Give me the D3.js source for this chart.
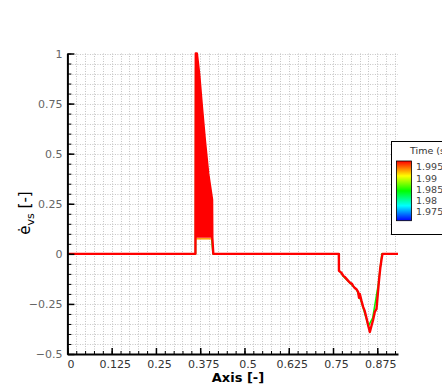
<!DOCTYPE html>
<html>
<head>
<meta charset="utf-8">
<script src="https://cdn.jsdelivr.net/npm/d3@7"></script>
<style>
  body { margin: 0; background: #fff; }
  svg { display: block; font-family: "DejaVu Sans", sans-serif; }
</style>
</head>
<body>
<div id="graph"></div>
<script>

// colour bar
var timeTicks = [1.975, 1.98, 1.985, 1.99, 1.995];
var timeRange = [1.9711, 1.9977];

// x ticks / y ticks
var xTicks = [0, 0.125, 0.25, 0.375, 0.5, 0.625, 0.75, 0.875];
var yTicks = [-0.5, -0.25, 0, 0.25, 0.5, 0.75, 1];

// latest time step (t = 1.995), red
var redX = [0, 0.3615, 0.3625, 0.3655, 0.372, 0.380, 0.388, 0.3976, 0.4085, 0.4092, 0.412,
            0.7665, 0.7668, 0.774, 0.779, 0.783, 0.788, 0.793, 0.7985, 0.8035, 0.8067, 0.811,
            0.8155, 0.8208, 0.8235, 0.8255, 0.8304, 0.835, 0.8395, 0.8445, 0.849, 0.854,
            0.8585, 0.8631, 0.868, 0.8728, 0.8765, 0.880, 0.8835, 0.8868, 0.8897, 0.9335];
var redY = [0, 0, 1.0, 1.0, 0.90, 0.73, 0.57, 0.40, 0.27, 0.08, 0,
            0, -0.085, -0.095, -0.11, -0.115, -0.125, -0.135, -0.145, -0.15, -0.16, -0.17,
            -0.175, -0.19, -0.22, -0.2, -0.235, -0.265, -0.285, -0.32, -0.355, -0.39,
            -0.36, -0.33, -0.29, -0.275, -0.2, -0.13, -0.07, -0.03, 0, 0];

// region swept by the red snapshots around the spike
var bandX = [0.3625, 0.3655, 0.372, 0.380, 0.388, 0.3976, 0.4085];
var bandTop = [1.0, 1.0, 0.90, 0.73, 0.57, 0.40, 0.27];
var bandBottom = [0.08, 0.08, 0.08, 0.08, 0.08, 0.08, 0.08];

// older step (t = 1.985)
var greenX = [0, 0.3618, 0.3622, 0.366, 0.373, 0.3815, 0.3885, 0.397, 0.407, 0.4075, 0.411,
              0.766, 0.7665, 0.78, 0.795, 0.806, 0.817, 0.83, 0.85, 0.862, 0.878, 0.888, 0.9335];
var greenY = [0, 0, 0.93, 0.9, 0.82, 0.66, 0.55, 0.38, 0.26, 0.07, 0,
              0, -0.08, -0.115, -0.14, -0.16, -0.18, -0.24, -0.36, -0.32, -0.15, 0, 0];

// older step (t = 1.99)
var orangeX = [0.3625, 0.366, 0.39, 0.4085];
var orangeY = [0.075, 0.075, 0.075, 0.075];


function setup() {
  var W = 442, H = 390;
  var svg = d3.select("#graph").append("svg")
    .attr("width", W).attr("height", H);

  var x = d3.scaleLinear().domain([0, 0.9335]).range([67.4, 398]);
  var y = d3.scaleLinear().domain([-0.5, 1]).range([354, 53.5]);

  var colour = d3.scaleLinear()
    .domain([1.975, 1.98, 1.985, 1.99, 1.995])
    .range(["#0000ff", "#00ffff", "#00ff00", "#ffff00", "#ff0000"])
    .clamp(true);

  // dotted grid
  var gx = d3.range(0, 0.93, 0.025);
  var gy = d3.range(-0.5, 1.001, 0.05);
  var grid = svg.append("g").attr("stroke", "#c4c4c4").attr("stroke-width", 1)
    .attr("stroke-dasharray", "1,1.5");
  grid.selectAll(".gx").data(gx).enter().append("line")
    .attr("x1", d => Math.round(x(d)) + 0.5).attr("x2", d => Math.round(x(d)) + 0.5)
    .attr("y1", y(1)).attr("y2", y(-0.5));
  grid.selectAll(".gy").data(gy).enter().append("line")
    .attr("y1", d => Math.round(y(d)) + 0.5).attr("y2", d => Math.round(y(d)) + 0.5)
    .attr("x1", x(0)).attr("x2", x(0.9335));

  // older steps
  var line = d3.line().x(d => x(d[0])).y(d => y(d[1]));
  svg.append("path").datum(d3.zip(greenX, greenY))
    .attr("d", line).attr("fill", "none")
    .attr("stroke", colour(1.985)).attr("stroke-width", 1.5);
  svg.append("path").datum(d3.zip(orangeX, orangeY))
    .attr("d", line).attr("fill", "none")
    .attr("stroke", colour(1.992)).attr("stroke-width", 1.5);

  // band + red curve
  var area = d3.area().x(d => x(d[0])).y0(d => y(d[2])).y1(d => y(d[1]));
  svg.append("path").datum(d3.zip(bandX, bandTop, bandBottom))
    .attr("d", area).attr("fill", colour(1.995));
  svg.append("path").datum(d3.zip(redX, redY))
    .attr("d", line).attr("fill", "none")
    .attr("stroke", colour(1.995)).attr("stroke-width", 2.4)
    .attr("stroke-linejoin", "round");

  // axes
  var minorX = d3.range(0, 0.93, 0.025);
  var minorY = d3.range(-0.5, 1.001, 0.05);

  var xa = svg.append("g").attr("transform", "translate(0," + y(-0.5) + ")");
  xa.append("g").call(d3.axisBottom(x).tickValues(minorX).tickSizeInner(-3).tickSizeOuter(0).tickFormat(""))
    .call(g => g.select(".domain").remove())
    .selectAll("line").attr("stroke", "#000");
  xa.append("g").call(d3.axisBottom(x).tickValues(xTicks).tickSizeInner(-6).tickSizeOuter(0)
      .tickPadding(6).tickFormat(d3.format("")))
    .call(g => g.select(".domain").attr("stroke", "#000").attr("stroke-width", 2))
    .call(g => g.selectAll("line").attr("stroke", "#000").attr("stroke-width", 1.5))
    .call(g => g.selectAll("text").attr("dx", 3).attr("fill", "#333")
      .attr("font-size", 11).attr("font-family", "DejaVu Sans"));

  var ya = svg.append("g").attr("transform", "translate(" + x(0) + ",0)");
  ya.append("g").call(d3.axisLeft(y).tickValues(minorY).tickSizeInner(-4).tickSizeOuter(0).tickFormat(""))
    .call(g => g.select(".domain").remove())
    .selectAll("line").attr("stroke", "#000");
  ya.append("g").call(d3.axisLeft(y).tickValues(yTicks).tickSizeInner(-7).tickSizeOuter(0)
      .tickPadding(5).tickFormat(d3.format("")))
    .call(g => g.select(".domain").attr("stroke", "#000").attr("stroke-width", 2))
    .call(g => g.selectAll("line").attr("stroke", "#000").attr("stroke-width", 1.5))
    .call(g => g.selectAll("text").attr("fill", "#666")
      .attr("font-size", 11).attr("font-family", "DejaVu Sans"));

  // titles
  svg.append("text").attr("x", 238).attr("y", 382)
    .attr("text-anchor", "middle").attr("font-size", 13).attr("font-weight", "bold")
    .text("Axis [-]");

  var yt = svg.append("text")
    .attr("transform", "translate(30,213) rotate(-90)")
    .attr("text-anchor", "middle").attr("font-size", 15);
  yt.append("tspan").text("\u0117");
  yt.append("tspan").attr("font-size", 11).attr("dy", 4).text("vs");
  yt.append("tspan").attr("dy", -4).text(" [-]");

  // legend
  var leg = svg.append("g");
  leg.append("rect").attr("x", 391.5).attr("y", 141.5).attr("width", 60).attr("height", 93)
    .attr("fill", "#fff").attr("stroke", "#000").attr("stroke-width", 1);
  leg.append("text").attr("x", 410).attr("y", 154).attr("font-size", 9.5).attr("fill", "#333")
    .text("Time (s)");

  var cb = d3.scaleLinear().domain(timeRange).range([220.7, 161]);
  var defs = svg.append("defs");
  var grad = defs.append("linearGradient").attr("id", "cbar")
    .attr("x1", 0).attr("x2", 0).attr("y1", 1).attr("y2", 0);
  grad.selectAll("stop").data(d3.range(0, 1.0001, 0.05)).enter().append("stop")
    .attr("offset", d => d)
    .attr("stop-color", d => colour(1.975 + d * 0.02));
  leg.append("rect").attr("x", 396.5).attr("y", cb(timeRange[1]))
    .attr("width", 15).attr("height", cb(timeRange[0]) - cb(timeRange[1]))
    .attr("fill", "url(#cbar)").attr("stroke", "#000").attr("stroke-width", 0.8);
  leg.selectAll(".tl").data(timeTicks).enter().append("text")
    .attr("x", 416).attr("y", d => cb(d)).attr("dy", "0.35em")
    .attr("font-size", 9.5).attr("fill", "#444")
    .text(d => d3.format("")(d));
}

window.addEventListener("load", setup);
</script>
</body>
</html>
